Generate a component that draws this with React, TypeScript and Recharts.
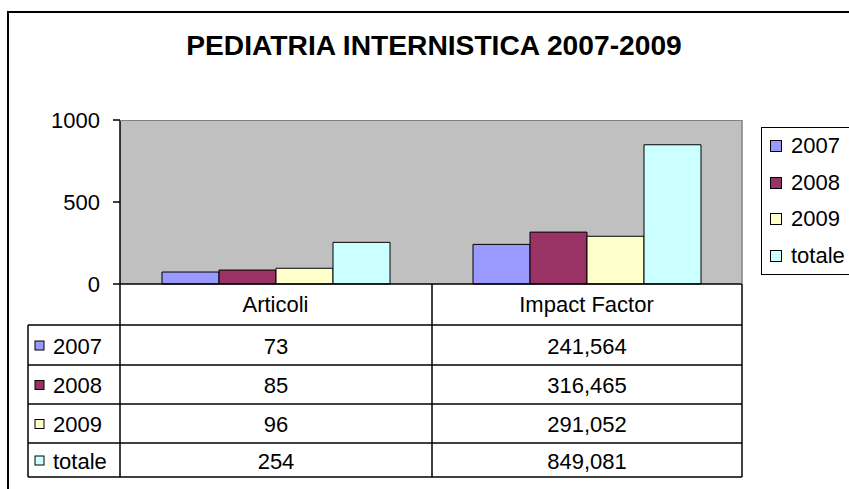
import React from 'react';
import { BarChart, Bar, XAxis, YAxis, CartesianGrid, Legend } from 'recharts';

const categories = ['Articoli', 'Impact Factor'];
const seriesNames = ['2007', '2008', '2009', 'totale'];
const values2007 = [73, 241.564];
const values2008 = [85, 316.465];
const values2009 = [96, 291.052];
const valuesTotale = [254, 849.081];
const yTicks = [0, 500, 1000];
const colors = ['#9999FF', '#993366', '#FFFFCC', '#CCFFFF'];

const seriesValues = [values2007, values2008, values2009, valuesTotale];

const data = categories.map((cat, i) => {
  const row: Record<string, string | number> = { category: cat };
  seriesNames.forEach((name, s) => {
    row[name] = seriesValues[s][i];
  });
  return row;
});

const FONT = "'Liberation Sans', Arial, sans-serif";

// Excel shows the impact factor with three decimals and a comma
const fmt = (v: number, col: number) => (col === 0 ? String(v) : v.toFixed(3).replace('.', ','));

// data table layout
const colX = [120, 432, 742];
const tableLeft = 28;
const rowLines = [325, 365, 404, 443, 477];

function LegendBox() {
  return (
    <div
      style={{
        width: 100,
        height: 148,
        border: '1.5px solid #000',
        boxSizing: 'border-box',
        background: '#fff',
        fontFamily: FONT,
        fontSize: 22,
      }}
    >
      {seriesNames.map((name, i) => (
        <div key={name} style={{ height: 36.5, display: 'flex', alignItems: 'center' }}>
          <span
            style={{
              display: 'inline-block',
              width: 10,
              height: 10,
              marginLeft: 8,
              marginRight: 9,
              background: colors[i],
              border: '1px solid #000',
            }}
          />
          <span>{name}</span>
        </div>
      ))}
    </div>
  );
}

export default function App() {
  return (
    <div
      style={{
        position: 'absolute',
        left: 0,
        top: 0,
        width: 849,
        height: 489,
        overflow: 'hidden',
        background: '#fff',
        fontFamily: FONT,
      }}
    >
      <div
        style={{
          position: 'absolute',
          left: 7,
          top: 11,
          width: 900,
          height: 600,
          borderLeft: '2px solid #000',
          borderTop: '2px solid #000',
        }}
      />
      <div style={{ position: 'absolute', left: 0, top: 0 }}>
        <BarChart
          width={849}
          height={489}
          data={data}
          margin={{ top: 120, right: 107, left: 0, bottom: 164 }}
          barGap={0}
          barCategoryGap={42}
        >
          <CartesianGrid fill="#C0C0C0" horizontal={false} vertical={false} />
          <XAxis
            dataKey="category"
            height={41}
            tickSize={0}
            tickMargin={12}
            axisLine={{ stroke: '#000', strokeWidth: 1.5 }}
            tick={{ fontSize: 22, fill: '#000', fontFamily: FONT }}
          />
          <YAxis
            width={120}
            domain={[0, 1000]}
            ticks={yTicks}
            tickSize={7}
            tickMargin={13}
            axisLine={{ stroke: '#000', strokeWidth: 1.5 }}
            tickLine={{ stroke: '#000', strokeWidth: 1.5 }}
            tick={{ fontSize: 22, fill: '#000', fontFamily: FONT }}
          />
          <Legend
            layout="vertical"
            align="center"
            verticalAlign="middle"
            wrapperStyle={{ left: 761, top: 127, width: 100, height: 148 }}
            content={() => <LegendBox />}
          />
          {seriesNames.map((name, i) => (
            <Bar
              key={name}
              dataKey={name}
              fill={colors[i]}
              stroke="#000"
              strokeWidth={1}
              isAnimationActive={false}
            />
          ))}
        </BarChart>
      </div>
      <svg
        width={849}
        height={489}
        style={{ position: 'absolute', left: 0, top: 0, pointerEvents: 'none' }}
        fontFamily={FONT}
      >
        <text x={434} y={45} textAnchor="middle" dominantBaseline="central" fontWeight="bold" fontSize={28.2}>
          PEDIATRIA INTERNISTICA 2007-2009
        </text>
        {/* plot area frame */}
        <line x1={120} y1={120.5} x2={742} y2={120.5} stroke="#808080" strokeWidth={1} />
        <line x1={742} y1={120} x2={742} y2={284} stroke="#808080" strokeWidth={1.5} />
        {/* data table grid */}
        {colX.map((x) => (
          <line key={x} x1={x} y1={284} x2={x} y2={rowLines[rowLines.length - 1]} stroke="#000" strokeWidth={1.5} />
        ))}
        <line x1={tableLeft} y1={rowLines[0]} x2={tableLeft} y2={rowLines[rowLines.length - 1]} stroke="#000" strokeWidth={1.5} />
        {rowLines.map((y) => (
          <line key={y} x1={tableLeft} y1={y} x2={742} y2={y} stroke="#000" strokeWidth={1.5} />
        ))}
        {seriesNames.map((name, s) => {
          const cy = (rowLines[s] + rowLines[s + 1]) / 2 + 1;
          return (
            <g key={name}>
              <rect x={35} y={cy - 5} width={9} height={9} fill={colors[s]} stroke="#000" strokeWidth={1} />
              <text x={53} y={cy} dominantBaseline="central" fontSize={22}>
                {name}
              </text>
              {seriesValues[s].map((v, c) => (
                <text
                  key={c}
                  x={(colX[c] + colX[c + 1]) / 2}
                  y={cy}
                  textAnchor="middle"
                  dominantBaseline="central"
                  fontSize={22}
                >
                  {fmt(v, c)}
                </text>
              ))}
            </g>
          );
        })}
      </svg>
    </div>
  );
}
